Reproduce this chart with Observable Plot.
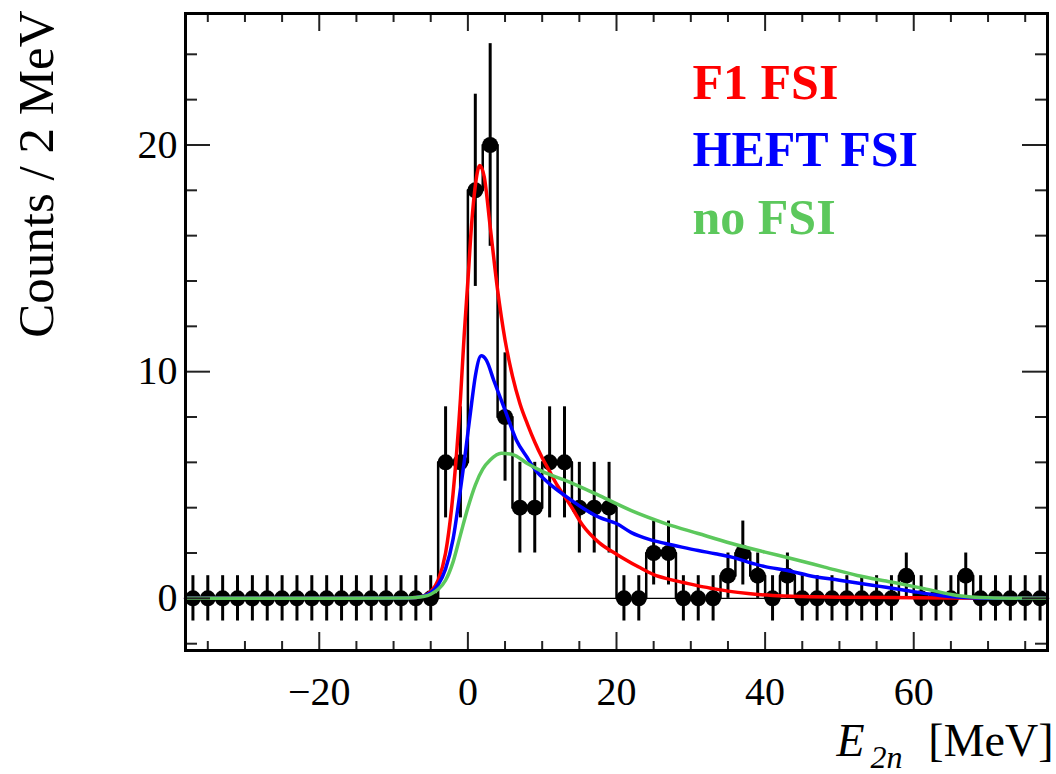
<!DOCTYPE html>
<html><head><meta charset="utf-8">
<script src="https://cdn.jsdelivr.net/npm/d3@7"></script>
<script src="https://cdn.jsdelivr.net/npm/@observablehq/plot@0.6"></script>
<style>body{margin:0;background:#fff} svg{display:block}</style>
</head><body><div id="chart"></div>
<script>
// ---- data ----
const binCenters = [-37,-35,-33,-31,-29,-27,-25,-23,-21,-19,-17,-15,-13,-11,-9,-7,-5,-3,-1,1,3,5,7,9,11,13,15,17,19,21,23,25,27,29,31,33,35,37,39,41,43,45,47,49,51,53,55,57,59,61,63,65,67,69,71,73,75,77];
const counts     = [0,0,0,0,0,0,0,0,0,0,0,0,0,0,0,0,0,6,6,18,20,8,4,4,6,6,4,4,4,0,0,2,2,0,0,0,1,2,1,0,1,0,0,0,0,0,0,0,1,0,0,0,1,0,0,0,0,0];
const errors     = [1,1,1,1,1,1,1,1,1,1,1,1,1,1,1,1,1,2.45,2.45,4.24,4.47,2.83,2,2,2.45,2.45,2,2,2,1,1,1.41,1.41,1,1,1,1,1.41,1,1,1,1,1,1,1,1,1,1,1,1,1,1,1,1,1,1,1,1];

const f1X   = [-38,-8,-6,-5,-4,-3,-2,-1,-0.5,0,0.5,1,1.6,2.2,3,4,5,6,7,8,9,10,11,12,13,14,15.4,17.7,20,21,23,25,27,29,31,33,35,37.7,41,45,50,60,70,78];
const f1Y   = [0,0.02,0.1,0.3,0.8,2.0,4.6,8.8,11.6,14.0,16.5,18.2,19.1,18.6,16.4,13.6,11.4,9.8,8.6,7.7,6.9,6.2,5.6,5.0,4.5,4.0,3.25,2.45,1.95,1.75,1.38,1.05,0.85,0.7,0.55,0.43,0.32,0.21,0.13,0.08,0.05,0.03,0.01,0];
const heftX = [-38,-8,-6,-5,-4,-3,-2,-1,-0.5,0,0.5,1,1.8,2.5,3.5,5,6.5,8,9,11,13.2,15.4,17.7,20,22,24.4,26.6,28.8,31,33.3,35.5,37.7,40,43,46,50,55,59,63.5,67,70,78];
const heftY = [0,0.02,0.1,0.25,0.6,1.3,2.6,4.8,6.0,7.3,8.6,9.8,10.7,10.5,9.6,8.3,7.0,6.2,5.7,5.05,4.5,4.0,3.57,3.3,2.9,2.6,2.42,2.26,2.11,1.97,1.82,1.6,1.4,1.23,1.0,0.8,0.55,0.35,0.13,0.04,0.01,0];
const noX   = [-38,-8,-6,-5,-4,-3,-2,-1,0,1,2,3,4.5,6,8,10,13.2,17.7,22,26.6,31,35.5,40,43.5,48,52.4,57,61.4,65.8,70,78];
const noY   = [0,0.02,0.08,0.18,0.4,0.8,1.6,2.8,4.0,5.0,5.7,6.1,6.4,6.35,5.95,5.6,5.19,4.53,3.87,3.3,2.86,2.42,2.04,1.76,1.38,1.01,0.72,0.43,0.13,0.03,0];

const legendLabels = ["F1 FSI", "HEFT FSI", "no FSI"];
const seriesColors = ["#ff0000", "#0000ff", "#5cc85c"];

const xTickLabels = [-20, 0, 20, 40, 60];
const xMinorTicks = [-35,-30,-25,-15,-10,-5,5,10,15,25,30,35,45,50,55,65,70,75];
const yTickLabels = [0, 10, 20];
const yMinorTicks = [-2,2,4,6,8,12,14,16,18,22,24];

// ---- tables ----
const bins = binCenters.map((x, i) => ({x, y: counts[i], err: errors[i]}));
const steps = binCenters.map((x, i) => ({edge: x - 1, y: counts[i]}));
steps.push({edge: binCenters[binCenters.length - 1] + 1, y: counts[counts.length - 1]});
const mk = (X, Y) => X.map((x, i) => ({x, y: Y[i]}));
const curves = [mk(f1X, f1Y), mk(heftX, heftY), mk(noX, noY)];

// ---- layout ----
const W = 1056, H = 774, mL = 185, mR = 9, mT = 13, mB = 124;
const fw = W - mL - mR, fh = H - mT - mB;
const serif = "'Liberation Serif', 'Times New Roman', serif";

const chart = Plot.plot({
  width: W, height: H,
  marginLeft: mL, marginRight: mR, marginTop: mT, marginBottom: mB,
  style: {fontFamily: serif, background: "#fff", color: "#000"},
  x: {domain: [-38, 78]},
  y: {domain: [-2.3, 25.8]},
  marks: [
    Plot.ruleY([0], {stroke: "#000", strokeWidth: 1.3}),
    Plot.line(steps, {x: "edge", y: "y", curve: "step-after", stroke: "#000", strokeWidth: 2.5}),
    Plot.ruleX(bins, {x: "x", y1: d => d.y - d.err, y2: d => d.y + d.err, stroke: "#000", strokeWidth: 3}),
    Plot.dot(bins, {x: "x", y: "y", r: 8, fill: "#000", stroke: null}),
    ...curves.map((c, i) => Plot.line(c, {x: "x", y: "y", curve: "monotone-x", stroke: seriesColors[i], strokeWidth: 3.5})),
    // ticks (inward on all four sides)
    Plot.tickX(xTickLabels, {x: d => d, insetTop: fh - 18, stroke: "#222", strokeWidth: 2}),
    Plot.tickX(xMinorTicks, {x: d => d, insetTop: fh - 9, stroke: "#222", strokeWidth: 2}),
    Plot.tickX(xTickLabels, {x: d => d, insetBottom: fh - 18, stroke: "#222", strokeWidth: 2}),
    Plot.tickX(xMinorTicks, {x: d => d, insetBottom: fh - 9, stroke: "#222", strokeWidth: 2}),
    Plot.tickY(yTickLabels, {y: d => d, insetRight: fw - 25, stroke: "#222", strokeWidth: 2}),
    Plot.tickY(yMinorTicks, {y: d => d, insetRight: fw - 12, stroke: "#222", strokeWidth: 2}),
    Plot.tickY(yTickLabels, {y: d => d, insetLeft: fw - 25, stroke: "#222", strokeWidth: 2}),
    Plot.tickY(yMinorTicks, {y: d => d, insetLeft: fw - 12, stroke: "#222", strokeWidth: 2}),
    Plot.frame({stroke: "#000", strokeWidth: 3}),
    // axis labels
    Plot.axisX({ticks: xTickLabels, anchor: "bottom", tickSize: 0, tickPadding: 26, fontSize: 40, fontFamily: serif, label: null}),
    Plot.axisY({ticks: yTickLabels, anchor: "left", tickSize: 0, tickPadding: 8, fontSize: 40, fontFamily: serif, label: null}),
    // y title
    Plot.text(["Counts / 2 MeV"], {text: d => d, frameAnchor: "top-left", rotate: -90, textAnchor: "end", lineAnchor: "bottom", dx: -133, dy: -3, fontSize: 51, fontFamily: serif, fill: "#000"}),
    // x title
    Plot.text(["[MeV]"], {text: d => d, frameAnchor: "bottom-right", textAnchor: "end", lineAnchor: "bottom", dx: 6, dy: 105, fontSize: 46, fontFamily: serif, fill: "#000"}),
    Plot.text(["2n"], {text: d => d, frameAnchor: "bottom-right", textAnchor: "end", lineAnchor: "bottom", dx: -145, dy: 117, fontSize: 32, fontStyle: "italic", fontFamily: serif, fill: "#000"}),
    Plot.text(["E"], {text: d => d, frameAnchor: "bottom-right", textAnchor: "end", lineAnchor: "bottom", dx: -183, dy: 105, fontSize: 46, fontStyle: "italic", fontFamily: serif, fill: "#000"}),
    // legend
    ...legendLabels.map((t, i) => Plot.text([t], {text: d => d, frameAnchor: "top-left", textAnchor: "start", lineAnchor: "bottom", dx: 507, dy: 85 + i * 67.5, fontSize: 50, fontWeight: "bold", fontFamily: serif, fill: seriesColors[i]}))
  ]
});
document.getElementById("chart").appendChild(chart);
</script>
</body></html>
